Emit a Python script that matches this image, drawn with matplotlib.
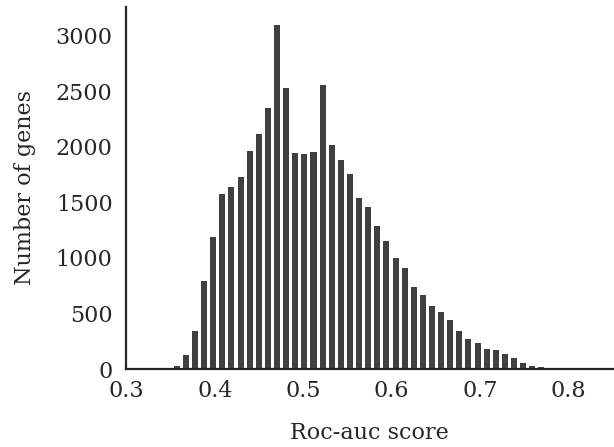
import matplotlib
matplotlib.use("Agg")
import matplotlib.pyplot as plt
import numpy as np

# histogram counts, one per bin (left to right)
counts = [5, 27, 126, 345, 795, 1186, 1577, 1634, 1724, 1958, 2111, 2349,
          3090, 2525, 1943, 1931, 1949, 2552, 2019, 1878, 1752, 1542, 1455,
          1288, 1156, 1003, 907, 740, 671, 566, 515, 443, 347, 276, 240,
          180, 174, 135, 102, 57, 30, 21, 14]
bin_start = 0.3414
bin_width = 0.01031
xticks = [0.3, 0.4, 0.5, 0.6, 0.7, 0.8]
yticks = [0, 500, 1000, 1500, 2000, 2500, 3000]

plt.rcParams["font.family"] = ["DejaVu Serif"]

fig = plt.figure(figsize=(6.14, 4.47), dpi=100)
ax = fig.add_axes([0.206, 0.174, 0.792, 0.811])

# bars drawn narrower than the bin instead of using white edges,
# so the smallest counts stay visible above the baseline
centers = bin_start + bin_width * (np.arange(len(counts)) + 0.5)
ax.bar(centers, counts, width=bin_width * 0.66, align="center",
       color="#404040", linewidth=0)

ax.set_xlim(0.3, 0.85)
ax.set_ylim(0, 3258)
ax.set_xticks(xticks)
ax.set_xticklabels([f"{t:.1f}" for t in xticks])
ax.set_yticks(yticks)
ax.tick_params(axis="both", length=0, labelsize=16, colors="#262626")
ax.tick_params(axis="x", pad=8)
ax.tick_params(axis="y", pad=10)

for side in ("top", "right"):
    ax.spines[side].set_visible(False)
for side in ("left", "bottom"):
    ax.spines[side].set_linewidth(1.6)
    ax.spines[side].set_color("#262626")

ax.set_xlabel("Roc-auc score", fontsize=16, color="#262626", labelpad=14)
ax.set_ylabel("Number of genes", fontsize=16, color="#262626", labelpad=14)

fig.savefig("out.png", dpi=100)
